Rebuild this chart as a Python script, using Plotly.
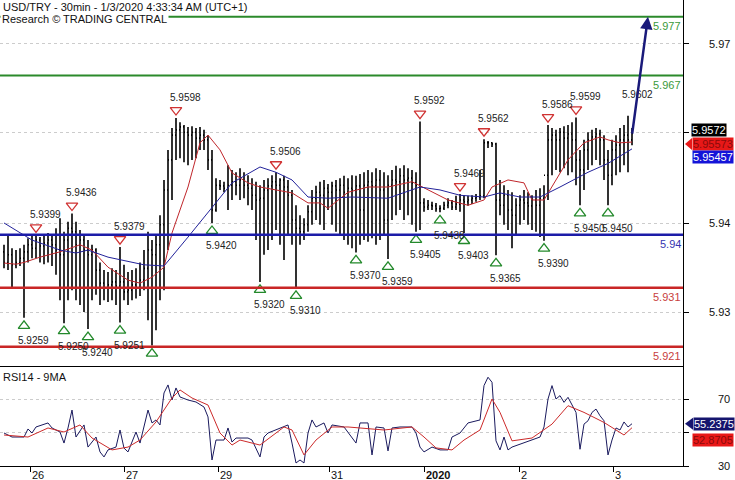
import plotly.graph_objects as go

# ---------------- data ----------------
bar_idx = list(range(158))
high = [5.9383,5.9400,5.9377,5.9374,5.9377,5.9383,5.9394,5.9398,5.9399,5.9396,
        5.9398,5.9403,5.9400,5.9411,5.9428,5.9405,5.9422,5.9436,5.9422,5.9408,
        5.9400,5.9391,5.9383,5.9377,5.9353,5.9340,5.9337,5.9343,5.9340,5.9379,
        5.9349,5.9337,5.9340,5.9343,5.9353,5.9374,5.9405,5.9391,5.9400,5.9433,
        5.9493,5.9544,5.9581,5.9598,5.9591,5.9586,5.9583,5.9584,5.9581,5.9583,
        5.9578,5.9569,5.9544,5.9496,5.9493,5.9490,5.9518,5.9510,5.9506,5.9513,
        5.9506,5.9501,5.9496,5.9490,5.9484,5.9493,5.9496,5.9501,5.9506,5.9496,
        5.9500,5.9493,5.9476,5.9450,5.9433,5.9428,5.9450,5.9476,5.9483,5.9490,
        5.9493,5.9486,5.9490,5.9493,5.9496,5.9500,5.9496,5.9501,5.9500,5.9503,
        5.9506,5.9510,5.9506,5.9513,5.9510,5.9506,5.9501,5.9510,5.9517,5.9513,
        5.9518,5.9513,5.9510,5.9506,5.9592,5.9462,5.9459,5.9456,5.9454,5.9450,
        5.9456,5.9462,5.9459,5.9466,5.9469,5.9467,5.9466,5.9467,5.9469,5.9510,
        5.9562,5.9559,5.9557,5.9556,5.9493,5.9484,5.9476,5.9472,5.9462,5.9467,
        5.9476,5.9472,5.9467,5.9476,5.9479,5.9484,5.9586,5.9581,5.9578,5.9581,
        5.9584,5.9586,5.9591,5.9599,5.9544,5.9561,5.9574,5.9578,5.9581,5.9578,
        5.9569,5.9544,5.9561,5.9569,5.9581,5.9586,5.9602,5.9581]
low = [5.9343,5.9340,5.9311,5.9343,5.9347,5.9259,5.9353,5.9360,5.9360,5.9353,
       5.9350,5.9353,5.9347,5.9332,5.9289,5.9250,5.9289,5.9306,5.9289,5.9281,
       5.9269,5.9240,5.9289,5.9298,5.9281,5.9289,5.9286,5.9289,5.9281,5.9251,
       5.9289,5.9281,5.9289,5.9292,5.9296,5.9306,5.9255,5.9212,5.9238,5.9289,
       5.9306,5.9374,5.9459,5.9527,5.9530,5.9523,5.9518,5.9527,5.9530,5.9544,
       5.9544,5.9510,5.9420,5.9439,5.9476,5.9472,5.9442,5.9459,5.9467,5.9459,
       5.9462,5.9450,5.9442,5.9391,5.9320,5.9366,5.9374,5.9391,5.9408,5.9383,
       5.9357,5.9400,5.9383,5.9310,5.9383,5.9391,5.9405,5.9417,5.9425,5.9417,
       5.9408,5.9442,5.9417,5.9405,5.9400,5.9391,5.9383,5.9377,5.9370,5.9383,
       5.9391,5.9388,5.9394,5.9383,5.9391,5.9400,5.9359,5.9425,5.9433,5.9442,
       5.9425,5.9433,5.9417,5.9405,5.9408,5.9439,5.9442,5.9442,5.9439,5.9438,
       5.9442,5.9445,5.9442,5.9442,5.9439,5.9403,5.9449,5.9452,5.9456,5.9459,
       5.9462,5.9547,5.9549,5.9365,5.9433,5.9417,5.9408,5.9377,5.9400,5.9417,
       5.9425,5.9417,5.9408,5.9405,5.9396,5.9390,5.9459,5.9501,5.9510,5.9506,
       5.9513,5.9501,5.9506,5.9484,5.9450,5.9476,5.9510,5.9518,5.9527,5.9518,
       5.9493,5.9450,5.9484,5.9501,5.9506,5.9518,5.9506,5.9552]
open_ = [5.9371,5.9353,5.9366,5.9349,5.9353,5.9360,5.9371,5.9383,5.9377,5.9391,
         5.9381,5.9386,5.9391,5.9383,5.9374,5.9366,5.9391,5.9411,5.9405,5.9383,
         5.9391,5.9374,5.9366,5.9374,5.9340,5.9318,5.9310,5.9315,5.9320,5.9313,
         5.9320,5.9303,5.9306,5.9315,5.9311,5.9323,5.9343,5.9374,5.9366,5.9383,
         5.9417,5.9476,5.9527,5.9569,5.9578,5.9583,5.9574,5.9569,5.9574,5.9564,
         5.9569,5.9561,5.9527,5.9442,5.9484,5.9483,5.9479,5.9484,5.9490,5.9484,
         5.9493,5.9484,5.9479,5.9467,5.9459,5.9462,5.9476,5.9483,5.9490,5.9484,
         5.9493,5.9481,5.9467,5.9425,5.9411,5.9405,5.9417,5.9439,5.9462,5.9472,
         5.9467,5.9479,5.9472,5.9483,5.9476,5.9484,5.9472,5.9479,5.9476,5.9483,
         5.9442,5.9484,5.9490,5.9483,5.9493,5.9476,5.9425,5.9484,5.9493,5.9490,
         5.9500,5.9493,5.9496,5.9488,5.9484,5.9454,5.9447,5.9450,5.9449,5.9444,
         5.9445,5.9450,5.9454,5.9447,5.9452,5.9459,5.9456,5.9459,5.9462,5.9464,
         5.9466,5.9556,5.9556,5.9554,5.9459,5.9450,5.9467,5.9442,5.9433,5.9450,
         5.9459,5.9454,5.9449,5.9459,5.9450,5.9462,5.9501,5.9561,5.9569,5.9561,
         5.9574,5.9564,5.9571,5.9561,5.9527,5.9510,5.9544,5.9561,5.9566,5.9571,
         5.9561,5.9527,5.9501,5.9544,5.9552,5.9561,5.9569,5.9561]
close = [5.9353,5.9366,5.9349,5.9353,5.9360,5.9371,5.9383,5.9377,5.9391,5.9381,
         5.9386,5.9391,5.9383,5.9374,5.9366,5.9391,5.9411,5.9405,5.9383,5.9391,
         5.9374,5.9366,5.9374,5.9340,5.9318,5.9310,5.9315,5.9320,5.9313,5.9320,
         5.9303,5.9306,5.9315,5.9311,5.9323,5.9343,5.9374,5.9366,5.9383,5.9417,
         5.9476,5.9527,5.9569,5.9578,5.9583,5.9574,5.9569,5.9574,5.9564,5.9569,
         5.9561,5.9527,5.9442,5.9484,5.9483,5.9479,5.9484,5.9490,5.9484,5.9493,
         5.9484,5.9479,5.9467,5.9459,5.9462,5.9476,5.9483,5.9490,5.9484,5.9493,
         5.9481,5.9467,5.9425,5.9411,5.9405,5.9417,5.9439,5.9462,5.9472,5.9467,
         5.9479,5.9472,5.9483,5.9476,5.9484,5.9472,5.9479,5.9476,5.9483,5.9442,
         5.9484,5.9490,5.9483,5.9493,5.9476,5.9425,5.9484,5.9493,5.9490,5.9500,
         5.9493,5.9496,5.9488,5.9484,5.9454,5.9447,5.9450,5.9449,5.9444,5.9445,
         5.9450,5.9454,5.9447,5.9452,5.9459,5.9456,5.9459,5.9462,5.9464,5.9466,
         5.9556,5.9556,5.9554,5.9459,5.9450,5.9467,5.9442,5.9433,5.9450,5.9459,
         5.9454,5.9449,5.9459,5.9450,5.9462,5.9501,5.9561,5.9569,5.9561,5.9574,
         5.9564,5.9571,5.9561,5.9527,5.9510,5.9544,5.9561,5.9566,5.9571,5.9561,
         5.9527,5.9501,5.9544,5.9552,5.9561,5.9569,5.9561,5.9572]

ma_fast_idx = [0,3,5,9,14,19,22,26,31,34,37,40,42,46,49,51,54,57,61,64,68,72,76,79,81,
               86,91,96,102,106,111,116,120,122,126,130,132,135,137,141,145,149,151,154,157]
ma_fast_val = [5.9352,5.9350,5.9353,5.9362,5.9371,5.9383,5.9374,5.9345,5.9323,5.9318,
               5.9328,5.9345,5.9403,5.9481,5.9556,5.9569,5.9544,5.9505,5.9488,5.9481,
               5.9476,5.9471,5.9454,5.9454,5.9445,5.9472,5.9481,5.9481,5.9490,5.9476,
               5.9459,5.9450,5.9459,5.9481,5.9493,5.9488,5.9459,5.9459,5.9481,5.9527,
               5.9556,5.9566,5.9561,5.9556,5.95573]
ma_slow_idx = [0,7,14,18,21,26,35,40,46,52,57,64,68,72,76,81,87,96,104,109,114,120,
               124,129,134,139,146,151,157]
ma_slow_val = [5.9420,5.9391,5.9374,5.9369,5.9374,5.9362,5.9349,5.9347,5.9396,5.9447,
               5.9488,5.9515,5.9506,5.9493,5.9464,5.9462,5.9464,5.9462,5.9481,5.9476,
               5.9467,5.9464,5.9471,5.9464,5.9464,5.9481,5.9506,5.9521,5.95457]

rsi_idx = [0,2,5,6,7,8,11,12,14,15,16,17,18,20,21,23,24,25,26,28,29,30,31,33,34,36,37,
           38,39,40,41,42,43,44,46,48,50,51,52,53,55,56,57,58,61,62,64,65,66,68,71,72,
           73,74,75,76,77,78,80,81,82,85,88,89,91,92,93,95,96,97,99,102,103,104,105,107,
           109,111,112,114,116,119,120,121,122,123,124,125,126,127,130,132,134,135,136,
           137,138,139,140,141,142,143,144,145,146,147,148,149,150,151,152,153,154,155,
           156,157]
rsi_val = [49.7,47.3,47.3,52.1,49.7,53.3,55.7,52.7,50.3,43.7,52.7,63.4,47.3,54.5,41.3,
           47.3,38.4,35.4,39.6,41.3,51.5,40.7,38.4,50.3,43.7,63.4,55.7,57.5,54.5,73.6,
           78.4,69.4,76.6,71.2,69.4,68.2,65.2,59.3,33.6,45.5,45.5,52.7,44.3,46.7,46.7,
           45.5,35.4,47.3,49.7,51.5,54.5,43.7,31.8,33.6,31.8,49.7,57.5,53.3,55.7,49.7,
           54.5,53.3,43.7,55.7,55.7,36.6,53.3,52.7,39.0,52.7,53.3,53.3,49.7,41.3,38.4,
           41.3,39.6,39.6,47.3,49.7,55.7,57.5,78.0,83.0,80.0,45.0,39.6,47.3,39.6,41.3,
           43.7,45.5,47.3,53.3,70.0,78.0,70.0,72.0,68.0,71.0,66.0,62.0,40.0,55.0,57.0,
           62.0,64.0,60.0,57.0,36.6,45.5,52.7,51.5,56.3,53.3,55.2375]
rsi_ma_idx = [0,6,11,15,19,22,27,31,34,38,42,44,47,51,54,57,59,62,64,70,72,75,78,82,86,
              95,102,105,108,112,115,119,122,124,127,132,137,141,145,150,155,157]
rsi_ma_val = [48.5,47.3,52.7,50.3,54.5,46.7,39.6,41.3,45.5,56.3,70.6,75.4,70.6,66.4,49.7,
              42.5,45.5,43.7,42.5,53.3,51.5,36.6,45.5,53.3,53.3,51.5,53.3,47.3,40.8,39.6,
              45.5,51.5,70.0,62.0,45.0,46.7,55.0,66.0,62.0,56.0,48.5,52.8705]

peak_idx = [8,17,29,43,68,104,114,120,136,143]
peak_val = [5.9399,5.9436,5.9379,5.9598,5.9506,5.9592,5.9469,5.9562,5.9586,5.9599]
trough_idx = [5,15,21,29,37,52,64,73,88,96,103,109,115,123,135,144,151]
trough_val = [5.9259,5.9250,5.9240,5.9251,5.9212,5.9420,5.9320,5.9310,5.9370,5.9359,
              5.9405,5.9438,5.9403,5.9365,5.9390,5.9450,5.9450]
trough_lbl = ["5.9259","5.9250","5.9240","5.9251","","5.9420","5.9320","5.9310","5.9370",
              "5.9359","5.9405","5.9438","5.9403","5.9365","5.9390","5.9450","5.9450"]
last_high_idx, last_high_val = 156, 5.9602

levels = [5.977, 5.967, 5.94, 5.931, 5.921]
level_lbl = ["5.977", "5.967", "5.94", "5.931", "5.921"]
level_col = ["#2b8a2b", "#2b8a2b", "#1c1ca8", "#c92626", "#c92626"]
level_txt = ["#3a9a3a", "#3a9a3a", "#3535b0", "#c84040", "#c84040"]

proj_idx = [157, 161]
proj_val = [5.9569, 5.977]

day_tick_pos = [6.5, 30, 53.5, 81.25, 105, 128.75, 152.25]
day_tick_lbl = ["26", "27", "29", "31", "<b>2020</b>", "2", "3"]

# the middle price tick and the RSI 50 tick are hidden behind the value boxes
price_tick_vals = [5.97237, 5.95727, 5.94199, 5.92689]
price_tick_lbl = ["5.97", "", "5.94", "5.93"]
rsi_tick_vals = [30, 50, 70]
rsi_tick_lbl = ["30", "", "70"]

last_close, ma_fast_last, ma_slow_last = 5.9572, 5.95573, 5.95457
rsi_last, rsi_ma_last = 55.2375, 52.8705

# ---------------- figure ----------------
FONT = "Liberation Sans, Arial, sans-serif"
PX_PER_UNIT = 366 / (5.97983 - 5.91773)
TRI_OFF = 8 / PX_PER_UNIT

fig = go.Figure()
fig.add_trace(go.Ohlc(
    x=bar_idx, open=open_, high=high, low=low, close=close,
    increasing=dict(line=dict(color="black", width=1.6)),
    decreasing=dict(line=dict(color="black", width=1.6)),
    tickwidth=0.25, showlegend=False, hoverinfo="skip", xaxis="x", yaxis="y"))
fig.add_trace(go.Scatter(x=ma_fast_idx, y=ma_fast_val, mode="lines",
                         line=dict(color="#c0262b", width=1), xaxis="x", yaxis="y",
                         showlegend=False, hoverinfo="skip"))
fig.add_trace(go.Scatter(x=ma_slow_idx, y=ma_slow_val, mode="lines",
                         line=dict(color="#22229a", width=1), xaxis="x", yaxis="y",
                         showlegend=False, hoverinfo="skip"))
fig.add_trace(go.Scatter(x=peak_idx, y=[v + TRI_OFF for v in peak_val], mode="markers",
                         marker=dict(symbol="triangle-down-open", size=10, color="#d03333",
                                     line=dict(width=1.3)),
                         xaxis="x", yaxis="y", showlegend=False, hoverinfo="skip"))
fig.add_trace(go.Scatter(x=trough_idx, y=[v - TRI_OFF for v in trough_val], mode="markers",
                         marker=dict(symbol="triangle-up-open", size=10, color="#23892b",
                                     line=dict(width=1.3)),
                         xaxis="x", yaxis="y", showlegend=False, hoverinfo="skip"))
fig.add_trace(go.Scatter(x=rsi_idx, y=rsi_val, mode="lines",
                         line=dict(color="#1a1a5e", width=1), xaxis="x2", yaxis="y2",
                         showlegend=False, hoverinfo="skip"))
fig.add_trace(go.Scatter(x=rsi_ma_idx, y=rsi_ma_val, mode="lines",
                         line=dict(color="#cc2a2a", width=1), xaxis="x2", yaxis="y2",
                         showlegend=False, hoverinfo="skip"))

shapes = []
for lv, c, w in zip(levels, level_col, [2, 2, 2.5, 2.5, 2.5]):
    shapes.append(dict(type="line", xref="paper", x0=0, x1=1, yref="y", y0=lv, y1=lv,
                       line=dict(color=c, width=w), layer="above"))
# small pointers on the right-hand value boxes
shapes.append(dict(type="path", xref="paper", xsizemode="pixel", xanchor=1,
                   yref="y", ysizemode="pixel", yanchor=ma_fast_last,
                   path="M 2,-2 L 9,4 L 9,-8 Z", fillcolor="#e81818", line=dict(width=0)))
shapes.append(dict(type="path", xref="paper", xsizemode="pixel", xanchor=1,
                   yref="y2", ysizemode="pixel", yanchor=rsi_last,
                   path="M 2,0 L 10,6 L 10,-6 Z", fillcolor="#15156e", line=dict(width=0)))

ann = []
# title
ann.append(dict(xref="paper", yref="paper", x=0, y=1, xanchor="left", yanchor="top",
                xshift=1, yshift=1, showarrow=False,
                text="USD/TRY - 30min - 1/3/2020 4:33:34 AM (UTC+1)",
                font=dict(family=FONT, size=11, color="#111")))
ann.append(dict(xref="paper", yref="paper", x=0, y=1, xanchor="left", yanchor="top",
                xshift=0, yshift=-11, showarrow=False, bgcolor="white", borderpad=1,
                text="Research © TRADING CENTRAL",
                font=dict(family=FONT, size=11, color="#111")))
ann.append(dict(xref="paper", yref="y2 domain", x=0, y=1, xanchor="left", yanchor="top",
                xshift=1, yshift=-3, showarrow=False, text="RSI14 - 9MA",
                font=dict(family=FONT, size=11, color="#111")))
# level labels
for lv, t, c in zip(levels, level_lbl, level_txt):
    ann.append(dict(xref="paper", yref="y", x=1, y=lv, xanchor="right", yanchor="top",
                    xshift=0, yshift=-1, showarrow=False, text=t,
                    font=dict(family=FONT, size=11, color=c)))
# peak / trough labels
for i, v in zip(peak_idx, peak_val):
    ann.append(dict(xref="x", yref="y", x=i, y=v, xshift=9, yshift=21, showarrow=False,
                    text=f"{v:.4f}", font=dict(family=FONT, size=10, color="#222")))
ann.append(dict(xref="x", yref="y", x=last_high_idx, y=last_high_val, xshift=9, yshift=21,
                showarrow=False, text=f"{last_high_val:.4f}",
                font=dict(family=FONT, size=10, color="#222")))
for i, v, t in zip(trough_idx, trough_val, trough_lbl):
    if t:
        ann.append(dict(xref="x", yref="y", x=i, y=v, xshift=9, yshift=-23, showarrow=False,
                        text=t, font=dict(family=FONT, size=10, color="#222")))
# projection arrow
ann.append(dict(xref="x", yref="y", x=proj_idx[1], y=proj_val[1], axref="x", ayref="y",
                ax=proj_idx[0], ay=proj_val[0], showarrow=True, arrowhead=2, arrowsize=1,
                arrowwidth=2.5, arrowcolor="#1a1a7a", text=""))
# right axis tick labels
for v, t in zip(price_tick_vals, price_tick_lbl):
    if t:
        ann.append(dict(xref="paper", yref="y", x=1, y=v, xanchor="right", xshift=49,
                        showarrow=False, text=t,
                        font=dict(family=FONT, size=11, color="#111")))
for v, t in zip(rsi_tick_vals, rsi_tick_lbl):
    if t:
        ann.append(dict(xref="paper", yref="y2", x=1, y=v, xanchor="right", xshift=49,
                        showarrow=False, text=t,
                        font=dict(family=FONT, size=11, color="#111")))
# value boxes
def box(yref, y, text, bg, fg, xshift, yshift):
    return dict(xref="paper", yref=yref, x=1, y=y, xanchor="left", xshift=xshift,
                yshift=yshift, showarrow=False, text=text, bgcolor=bg, borderpad=0,
                font=dict(family=FONT, size=11, color=fg))
ann.append(box("y", last_close, "5.9572", "black", "white", 8, 3))
ann.append(box("y", ma_fast_last, "5.95573", "#e81818", "#8a0a0a", 9, -2))
ann.append(box("y", ma_slow_last, "5.95457", "#1414d8", "white", 9, -8))
ann.append(box("y2", rsi_last, "55.2375", "#15156e", "white", 10, 0))
ann.append(box("y2", rsi_ma_last, "52.8705", "#e81818", "#8a0a0a", 9, -12))
# day labels
for p, t in zip(day_tick_pos, day_tick_lbl):
    ann.append(dict(xref="x2", yref="paper", x=p, y=0, xanchor="left", yanchor="top",
                    xshift=0, yshift=-1, showarrow=False, text=t,
                    font=dict(family=FONT, size=11, color="#111")))

SPLIT = 100 / 466
fig.update_layout(
    width=735, height=480, margin=dict(l=0, r=52, t=0, b=14),
    paper_bgcolor="white", plot_bgcolor="white", showlegend=False,
    xaxis=dict(domain=[0, 1], range=[-1, 169.75], anchor="y", showticklabels=False,
               showgrid=False, zeroline=False, showline=True, linecolor="black",
               linewidth=1, ticks="", rangeslider=dict(visible=False)),
    xaxis2=dict(domain=[0, 1], range=[-1, 169.75], anchor="y2", matches="x",
                tickvals=day_tick_pos, ticks="outside", ticklen=5, tickcolor="black",
                showticklabels=False, showgrid=False, zeroline=False, showline=True,
                linecolor="black", linewidth=1),
    yaxis=dict(domain=[SPLIT, 1], range=[5.91773, 5.97983], side="right", anchor="x",
               tickvals=price_tick_vals, ticks="outside", ticklen=5, tickcolor="black",
               showticklabels=False, showgrid=True, gridcolor="#cccccc", griddash="dot",
               gridwidth=1, zeroline=False, showline=True, linecolor="black", linewidth=1),
    yaxis2=dict(domain=[0, SPLIT], range=[30, 89.7], side="right", anchor="x2",
                tickvals=rsi_tick_vals, ticks="outside", ticklen=5, tickcolor="black",
                showticklabels=False, showgrid=True, gridcolor="#cccccc", griddash="dot",
                gridwidth=1, zeroline=False, showline=True, linecolor="black", linewidth=1),
    shapes=shapes, annotations=ann,
)
fig.write_html("out.html", config={"displayModeBar": False},
               post_script="document.body.style.margin='0px';")
